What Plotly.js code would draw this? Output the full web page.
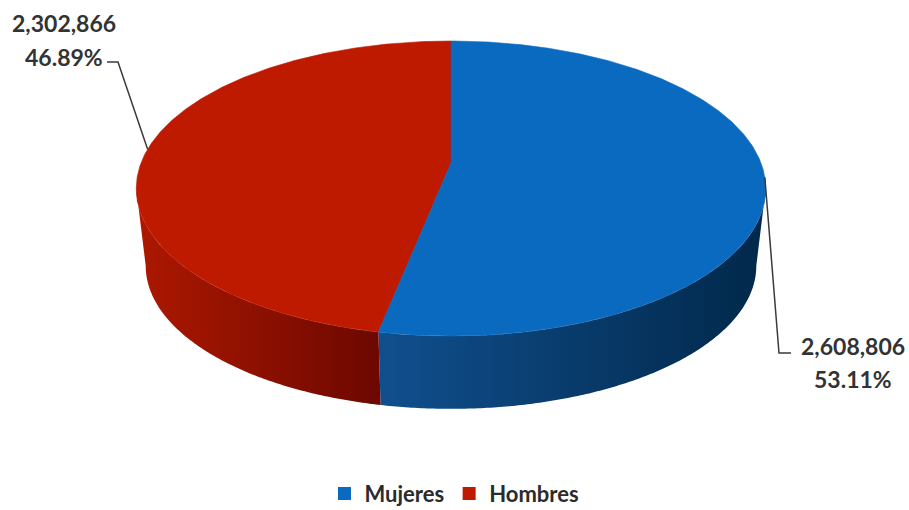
<!DOCTYPE html>
<html><head><meta charset="utf-8">
<script src="https://cdn.plot.ly/plotly-3.0.1.min.js"></script>
<style>html,body{margin:0;padding:0;background:#fff}#chart{width:909px;height:510px}</style>
</head><body><div id="chart"></div>
<script>
// ---- data ----
const categories = ['Mujeres', 'Hombres'];
const values = [2608806, 2302866];
const topColors = ['#0a6abf', '#bd1a00'];
const sideColors = [['#104f8e', '#01284a'], ['#ad1800', '#6c0800']];

// ---- geometry of the tilted disc (pixel space) ----
const CX = 451, CY = 163, RX = 310, RY = 143.1, P = 0.173, DEPTH = 78, BOTSCALE = 0.97;
function pt(deg, dy, k) {
  const t = deg * Math.PI / 180;
  const u = Math.sin(t), w = -Math.cos(t);
  const s = (k || 1) / (1 - P * w);
  return [CX + RX * u * s, CY + RY * w * s + (dy || 0)];
}
function arc(a0, a1, dy, k) {
  const xs = [], ys = [];
  const n = Math.max(2, Math.ceil(Math.abs(a1 - a0) / 0.5));
  for (let i = 0; i <= n; i++) {
    const p = pt(a0 + (a1 - a0) * i / n, dy, k);
    xs.push(p[0]); ys.push(p[1]);
  }
  return [xs, ys];
}

const total = values.reduce((a, b) => a + b, 0);
const pct = values.map(v => v / total * 100);
let acc = 0;
const slices = values.map(v => {
  const a0 = acc; acc += v / total * 360;
  return { a0: a0, a1: acc, mid: (a0 + acc) / 2 };
});
const silR = Math.acos(-P) * 180 / Math.PI;   // right silhouette
const silL = 360 - silR;                       // left silhouette

const traces = [];
// side walls
slices.forEach((s, i) => {
  const lo = Math.max(s.a0, silR), hi = Math.min(s.a1, silL);
  if (hi <= lo) return;
  const top = arc(lo, hi, 0, 1), bot = arc(hi, lo, DEPTH, BOTSCALE);
  traces.push({
    type: 'scatter', mode: 'none', fill: 'toself', hoverinfo: 'skip', showlegend: false,
    x: top[0].concat(bot[0]), y: top[1].concat(bot[1]),
    fillgradient: { type: 'horizontal', colorscale: [[0, sideColors[i][0]], [1, sideColors[i][1]]] }
  });
});
// top faces
for (let i = slices.length - 1; i >= 0; i--) {
  const s = slices[i];
  const a = arc(s.a0, s.a1, 0, 1);
  traces.push({
    type: 'scatter', mode: 'lines', fill: 'toself', hoverinfo: 'skip', showlegend: false,
    x: [CX].concat(a[0], [CX]), y: [CY].concat(a[1], [CY]),
    fillcolor: topColors[i], line: { color: topColors[i], width: 0.6 }
  });
}
// leader lines + labels
const labelPos = [
  { elbow: [779, 353], end: [791, 353], tx: 853, y1: 346, y2: 379 },
  { elbow: [118, 62], end: [107, 62], tx: 64, y1: 23, y2: 57 }
];
const annotations = [];
const lblFont = { family: 'Lato', size: 23, color: '#333333', weight: 'bold' };
slices.forEach((s, i) => {
  const a = pt(s.mid, 0, 1), L = labelPos[i];
  traces.push({
    type: 'scatter', mode: 'lines', hoverinfo: 'skip', showlegend: false,
    x: [a[0], L.elbow[0], L.end[0]], y: [a[1], L.elbow[1], L.end[1]],
    line: { color: '#3a3a3a', width: 1.5 }
  });
  annotations.push({ x: L.tx, y: L.y1, xref: 'x', yref: 'y', showarrow: false,
    text: values[i].toLocaleString('en-US'), font: lblFont });
  annotations.push({ x: L.tx, y: L.y2, xref: 'x', yref: 'y', showarrow: false,
    text: pct[i].toFixed(2) + '%', font: lblFont });
});
// legend entries
categories.forEach((c, i) => {
  traces.push({ type: 'scatter', mode: 'markers', x: [null], y: [null], name: c,
    marker: { symbol: 'square', size: 13, color: topColors[i] }, hoverinfo: 'skip' });
});

const layout = {
  width: 909, height: 510,
  margin: { l: 0, r: 0, t: 0, b: 0, autoexpand: false },
  paper_bgcolor: '#ffffff', plot_bgcolor: '#ffffff',
  xaxis: { range: [0, 909], visible: false, fixedrange: true },
  yaxis: { range: [510, 0], visible: false, fixedrange: true },
  showlegend: true,
  legend: { orientation: 'h', x: 0.5, xanchor: 'center', y: -0.009, yanchor: 'bottom',
    font: { family: 'Lato', size: 22, color: '#2b2b2b', weight: 'bold' }, itemclick: false, itemdoubleclick: false },
  annotations: annotations
};
Plotly.newPlot('chart', traces, layout, { displayModeBar: false, staticPlot: true });
</script>
</body></html>
